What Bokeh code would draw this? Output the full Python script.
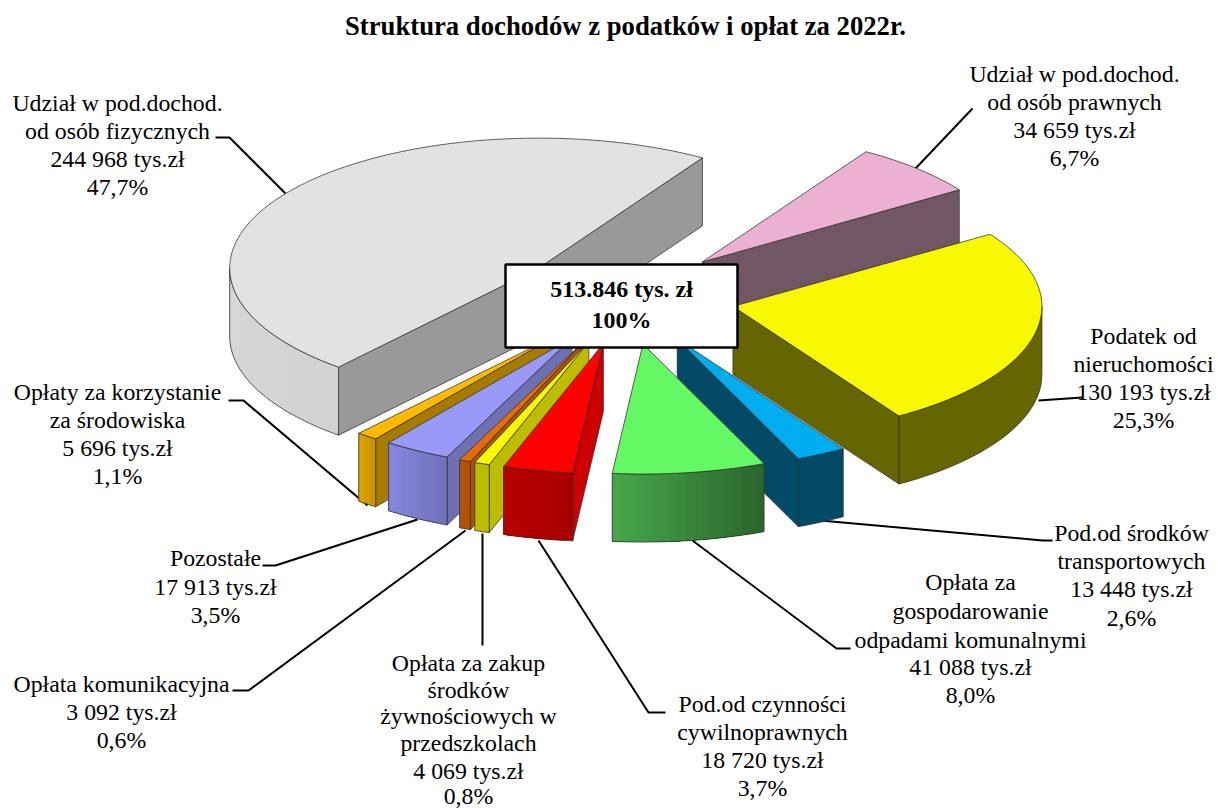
import math
from bokeh.plotting import figure
from bokeh.embed import file_html
from bokeh.resources import INLINE
from bokeh.core.properties import value
from bokeh.models import ColumnDataSource

title = "Struktura dochodów z podatków i opłat za 2022r."
total_lines = ["513.846 tys. zł", "100%"]

# values in clockwise order, starting at the back edge of the pink slice
names = ["prawne", "nieruchomosci", "transport", "odpady", "cywilne", "przedszkola", "komunikacyjna", "pozostale", "srodowisko", "fizyczne"]
values_tys = [34659, 130193, 13448, 41088, 18720, 4069, 3092, 17913, 5696, 244968]

label_lines = {
    "fizyczne": ["Udział w pod.dochod.", "od osób fizycznych", "244 968 tys.zł", "47,7%"],
    "prawne": ["Udział w pod.dochod.", "od osób prawnych", "34 659 tys.zł", "6,7%"],
    "nieruchomosci": ["Podatek od", "nieruchomości", "130 193 tys.zł", "25,3%"],
    "transport": ["Pod.od środków", "transportowych", "13 448 tys.zł", "2,6%"],
    "odpady": ["Opłata za", "gospodarowanie", "odpadami komunalnymi", "41 088 tys.zł", "8,0%"],
    "cywilne": ["Pod.od czynności", "cywilnoprawnych", "18 720 tys.zł", "3,7%"],
    "przedszkola": ["Opłata za zakup", "środków", "żywnościowych w", "przedszkolach", "4 069 tys.zł", "0,8%"],
    "komunikacyjna": ["Opłata komunikacyjna", "3 092 tys.zł", "0,6%"],
    "pozostale": ["Pozostałe", "17 913 tys.zł", "3,5%"],
    "srodowisko": ["Opłaty za korzystanie", "za środowiska", "5 696 tys.zł", "1,1%"],
}

# layout: label centre x and the y of each line
label_pos = {
    "fizyczne": (117, [102, 130, 158, 186]),
    "prawne": (1074, [73, 101, 129, 157]),
    "nieruchomosci": (1143, [335, 363, 391, 419]),
    "transport": (1131, [532, 560, 588, 617]),
    "odpady": (970, [581, 610, 639, 666, 694]),
    "cywilne": (762, [703, 731, 759, 787]),
    "przedszkola": (468, [662, 689, 715, 742, 770, 795]),
    "komunikacyjna": (121, [683, 711, 739]),
    "pozostale": (215, [557, 586, 614]),
    "srodowisko": (117, [391, 419, 447, 475]),
}
leaders = {
    "fizyczne": [(215, 137), (229, 137), (285, 193)],
    "prawne": [(972, 108), (915, 168)],
    "nieruchomosci": [(1038, 400), (1082, 397)],
    "transport": [(820, 520), (1042, 540), (1052, 540)],
    "odpady": [(692, 540), (836, 648), (850, 648)],
    "cywilne": [(538, 540), (648, 712), (665, 712)],
    "przedszkola": [(482, 533), (482, 645)],
    "komunikacyjna": [(465, 530), (248, 690), (232, 690)],
    "pozostale": [(417, 519), (275, 565), (262, 565)],
    "srodowisko": [(367, 505), (243, 400), (228, 400)],
}

# colours: top, radial wall, outer side (from, to)
colors = {
    "fizyczne": ("#e2e2e2", "#999999", "#d2d2d2", "#d8d8d8"),
    "prawne": ("#ebb0d2", "#715664", "#715664", "#715664"),
    "nieruchomosci": ("#f8f800", "#666600", "#666600", "#666600"),
    "transport": ("#00aeef", "#024a66", "#024a66", "#024a66"),
    "odpady": ("#64f864", "#2d6b30", "#2b662e", "#46a64b"),
    "cywilne": ("#ff0000", "#cc0000", "#a80000", "#b80000"),
    "przedszkola": ("#f8f800", "#bdbd00", "#bdbd00", "#bdbd00"),
    "komunikacyjna": ("#e46c0a", "#a85408", "#b25307", "#b25307"),
    "pozostale": ("#9999f8", "#6e70b4", "#7072bb", "#8587dc"),
    "srodowisko": ("#ffb900", "#a67c00", "#c99400", "#dca400"),
}
draw_order = ["prawne", "fizyczne", "nieruchomosci", "srodowisko", "pozostale", "komunikacyjna",
              "przedszkola", "cywilne", "transport", "odpady"]

CX, CY, A, B, DEPTH, EXPLODE_X, EXPLODE_Y, START = 626, 296, 309, 130, 68, 0.352, 0.37, 58.0

p = figure(width=1218, height=808, x_range=(0, 1218), y_range=(808, 0),
           output_backend="svg", toolbar_location=None, min_border=0)
p.axis.visible = False
p.grid.visible = False
p.outline_line_color = None
p.background_fill_color = "#ffffff"
SERIF = value("Liberation Serif")

for k, pts in leaders.items():
    p.line([q[0] for q in pts], [q[1] for q in pts], line_color="#000000", line_width=2)

total = sum(values_tys)
angles = {}
t = START
for n, v in zip(names, values_tys):
    angles[n] = (t, t - 360.0 * v / total)
    t = angles[n][1]


def pt(ax, ay, deg, dz=0):
    r = math.radians(deg)
    return ax + A * math.cos(r), ay - B * math.sin(r) + dz


def mix(c1, c2, f):
    a = [int(c1[i:i + 2], 16) for i in (1, 3, 5)]
    b = [int(c2[i:i + 2], 16) for i in (1, 3, 5)]
    return "#%02x%02x%02x" % tuple(round(x + (y - x) * f) for x, y in zip(a, b))


EDGE = "#303030"


def wall(ax, ay, deg, col):
    x, y = pt(ax, ay, deg)
    p.patch([ax, x, x, ax], [ay, y, y + DEPTH, ay + DEPTH], fill_color=col, line_color=EDGE, line_width=0.75)


for n in draw_order:
    ts, te = angles[n]
    mid = math.radians((ts + te) / 2)
    ax = CX + EXPLODE_X * A * math.cos(mid)
    ay = CY - EXPLODE_Y * B * math.sin(mid)
    top, wc, s1, s2 = colors[n]
    if math.cos(math.radians(ts)) < 0:
        wall(ax, ay, ts, wc)
    if math.cos(math.radians(te)) > 0:
        wall(ax, ay, te, wc)
    hi, lo = min(ts, 0), max(te, -180)
    if hi > lo:
        steps = max(3, int((hi - lo) / 1.5))
        angs = [hi - (hi - lo) * i / steps for i in range(steps + 1)]
        xs = [pt(ax, ay, a)[0] for a in angs]
        ys = [pt(ax, ay, a)[1] for a in angs]
        bands = 1 if s1 == s2 else min(steps, 24)
        for b_i in range(bands):
            i0 = steps * b_i // bands
            c = mix(s1, s2, b_i / max(bands - 1, 1))
            sx, sy = xs[i0:], ys[i0:]
            p.patch(sx + sx[::-1], sy + [y + DEPTH for y in sy[::-1]], fill_color=c, line_color=None)
        p.line(xs + xs[::-1] + xs[:1], ys + [y + DEPTH for y in ys[::-1]] + ys[:1], line_color=EDGE, line_width=0.75)
    steps = max(3, int((ts - te) / 2))
    angs = [ts - (ts - te) * i / steps for i in range(steps + 1)]
    xs = [ax] + [pt(ax, ay, a)[0] for a in angs]
    ys = [ay] + [pt(ax, ay, a)[1] for a in angs]
    p.patch(xs, ys, fill_color=top, line_color=EDGE, line_width=0.75)

# total box
p.quad(left=[505], right=[737], top=[264], bottom=[347], fill_color="#ffffff", line_color="#000000", line_width=2.5)
p.text(x=[621, 621], y=[288, 319], text=total_lines, text_font=SERIF, text_font_style="bold",
       text_font_size="24px", text_align="center", text_baseline="middle", text_color="#000000")

# labels
lx, ly, lt = [], [], []
for k, lines in label_lines.items():
    cx, yy = label_pos[k]
    for s, y in zip(lines, yy):
        lx.append(cx); ly.append(y); lt.append(s)
p.text(x="x", y="y", text="t", source=ColumnDataSource(dict(x=lx, y=ly, t=lt)), text_font=SERIF,
       text_font_size="23.8px", text_align="center", text_baseline="middle", text_color="#000000")
p.text(x=[625], y=[25], text=[title], text_font=SERIF, text_font_style="bold", text_font_size="26.7px",
       text_align="center", text_baseline="middle", text_color="#000000")

open("out.html", "w").write(file_html(p, INLINE))
